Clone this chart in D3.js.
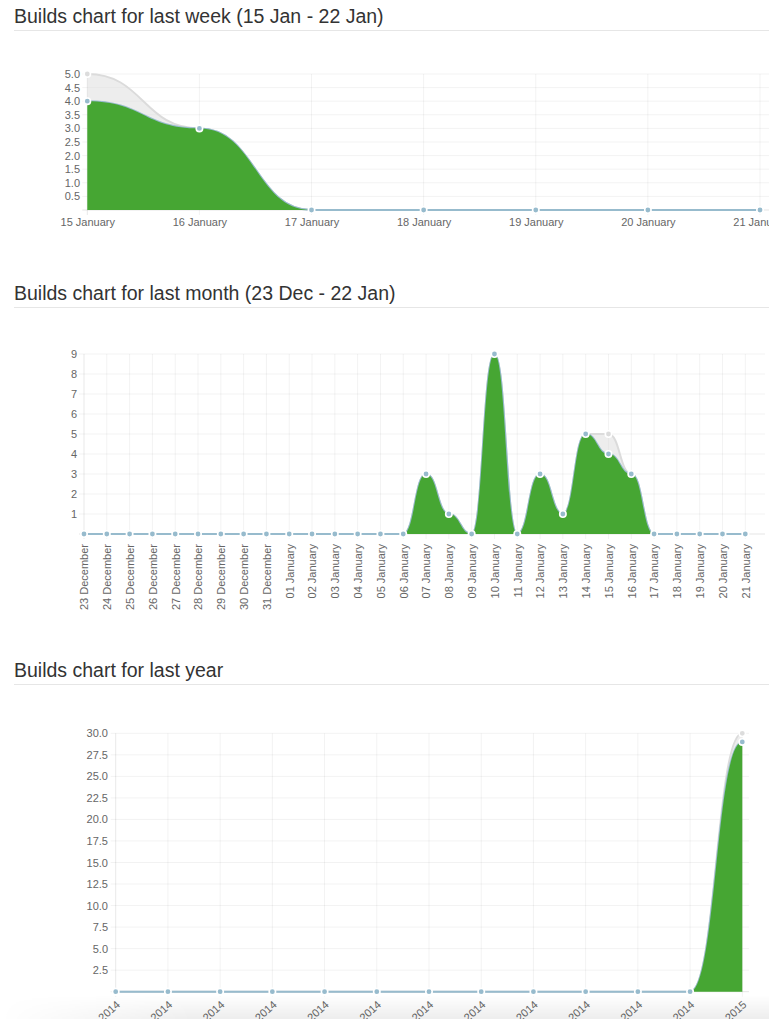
<!DOCTYPE html>
<html>
<head>
<meta charset="utf-8">
<script src="https://cdn.jsdelivr.net/npm/d3@7"></script>
<style>
  body { margin: 0; background: #fff; overflow: hidden; }
  svg { display: block; font-family: "Liberation Sans", Arial, sans-serif; }
  .title { font-size: 19.5px; fill: #333; }
  .tick text { font-size: 11px; fill: #666; }
</style>
</head>
<body>
<div id="charts"></div>
<script>
// Builds per day, last week
var weekLabels = ["15 January", "16 January", "17 January", "18 January", "19 January", "20 January", "21 January"];
var weekTotal = [5, 3, 0, 0, 0, 0, 0];
var weekSuccess = [4, 3, 0, 0, 0, 0, 0];
var weekTicks = [0.5, 1, 1.5, 2, 2.5, 3, 3.5, 4, 4.5, 5];

// Builds per day, last month
var monthLabels = ["23 December", "24 December", "25 December", "26 December", "27 December",
  "28 December", "29 December", "30 December", "31 December", "01 January", "02 January",
  "03 January", "04 January", "05 January", "06 January", "07 January", "08 January",
  "09 January", "10 January", "11 January", "12 January", "13 January", "14 January",
  "15 January", "16 January", "17 January", "18 January", "19 January", "20 January", "21 January"];
var monthTotal = [0, 0, 0, 0, 0, 0, 0, 0, 0, 0, 0, 0, 0, 0, 0, 3, 1, 0, 9, 0, 3, 1, 5, 5, 3, 0, 0, 0, 0, 0];
var monthSuccess = [0, 0, 0, 0, 0, 0, 0, 0, 0, 0, 0, 0, 0, 0, 0, 3, 1, 0, 9, 0, 3, 1, 5, 4, 3, 0, 0, 0, 0, 0];
var monthTicks = [1, 2, 3, 4, 5, 6, 7, 8, 9];

// Builds per month, last year
var yearLabels = ["2014", "2014", "2014", "2014", "2014", "2014", "2014", "2014", "2014", "2014", "2014", "2014", "2015"];
var yearTotal = [0, 0, 0, 0, 0, 0, 0, 0, 0, 0, 0, 0, 30];
var yearSuccess = [0, 0, 0, 0, 0, 0, 0, 0, 0, 0, 0, 0, 29];
var yearTicks = [2.5, 5, 7.5, 10, 12.5, 15, 17.5, 20, 22.5, 25, 27.5, 30];

var W = 769, H = 1019;

var svg = d3.select("#charts").append("svg")
            .attr("width", W)
            .attr("height", H);

// bottom shadow of the page
var defs = svg.append("defs");
var vg = defs.append("linearGradient").attr("id", "shade").attr("x1", 0).attr("y1", 0).attr("x2", 0).attr("y2", 1);
vg.append("stop").attr("offset", 0).attr("stop-color", "#000").attr("stop-opacity", 0);
vg.append("stop").attr("offset", 1).attr("stop-color", "#000").attr("stop-opacity", 0.07);
var hg = defs.append("linearGradient").attr("id", "fadeLeft").attr("x1", 0).attr("y1", 0).attr("x2", 1).attr("y2", 0);
hg.append("stop").attr("offset", 0).attr("stop-color", "#fff").attr("stop-opacity", 0);
hg.append("stop").attr("offset", 0.25).attr("stop-color", "#fff").attr("stop-opacity", 1);
defs.append("mask").attr("id", "shadeMask")
    .append("rect").attr("x", 0).attr("y", 995).attr("width", W).attr("height", H - 995)
    .attr("fill", "url(#fadeLeft)");

function drawChart(cfg) {
    var g = svg.append("g");

    g.append("text")
        .attr("class", "title")
        .attr("x", 14)
        .attr("y", cfg.titleY)
        .text(cfg.title);

    g.append("line")
        .attr("x1", 14).attr("x2", W)
        .attr("y1", cfg.titleY + 7.5).attr("y2", cfg.titleY + 7.5)
        .attr("stroke", "#e6e6e6");

    var x = d3.scalePoint()
              .domain(d3.range(cfg.labels.length))
              .range([cfg.x0, cfg.x1]);

    var y = d3.scaleLinear()
              .domain([0, d3.max(cfg.ticks)])
              .range([cfg.y0, cfg.yTop]);

    // horizontal grid
    g.append("g").selectAll("line")
        .data(cfg.ticks)
        .join("line")
            .attr("x1", cfg.x0 - 5).attr("x2", cfg.gridRight)
            .attr("y1", function(d) { return y(d); })
            .attr("y2", function(d) { return y(d); })
            .attr("stroke", "rgba(0,0,0,0.05)");

    // vertical grid
    g.append("g").selectAll("line")
        .data(x.domain())
        .join("line")
            .attr("x1", function(d) { return x(d); })
            .attr("x2", function(d) { return x(d); })
            .attr("y1", cfg.yTop)
            .attr("y2", cfg.y0 + 5)
            .attr("stroke", function(d) { return d === 0 ? "rgba(0,0,0,0.09)" : "rgba(0,0,0,0.05)"; });

    // x axis line
    g.append("line")
        .attr("x1", cfg.x0 - 5).attr("x2", cfg.gridRight)
        .attr("y1", cfg.y0).attr("y2", cfg.y0)
        .attr("stroke", "rgba(0,0,0,0.1)");

    // y labels
    var yAxis = g.append("g")
        .attr("transform", "translate(" + cfg.yLabelX + ",0)")
        .call(d3.axisLeft(y).tickValues(cfg.ticks).tickFormat(cfg.fmt).tickSize(0).tickPadding(0));
    yAxis.select(".domain").remove();
    yAxis.attr("font-family", null).attr("font-size", null);

    // x labels
    var xAxis = g.append("g")
        .attr("transform", "translate(0," + cfg.y0 + ")")
        .call(d3.axisBottom(x).tickFormat(function(i) { return cfg.labels[i]; }).tickSize(0).tickPadding(8));
    xAxis.select(".domain").remove();
    xAxis.attr("font-family", null).attr("font-size", null);
    if (cfg.rotate) {
        xAxis.selectAll("text")
            .attr("x", 0).attr("y", 0).attr("dy", "0.35em")
            .attr("transform", "translate(" + cfg.labelDx + "," + cfg.labelDy + ") rotate(" + cfg.rotate + ")")
            .style("text-anchor", "end");
    }

    // old Chart.js bezier: both control points at the horizontal midpoint
    var line = d3.line()
        .x(function(d, i) { return x(i); })
        .y(function(d) { return y(d); })
        .curve(d3.curveBumpX);
    var area = d3.area()
        .x(function(d, i) { return x(i); })
        .y0(cfg.y0)
        .y1(function(d) { return y(d); })
        .curve(d3.curveBumpX);

    // datasets: total builds (grey) below, successful builds (green) on top
    var datasets = [
        {values: cfg.total, fill: "rgba(220,220,220,0.5)", stroke: "#dcdcdc", point: "#dcdcdc"},
        {values: cfg.success, fill: "#46a633", stroke: "#97bbcd", point: "#97bbcd"}
    ];

    datasets.forEach(function(ds) {
        var s = g.append("g");
        s.append("path")
            .attr("d", line(ds.values))
            .attr("fill", "none")
            .attr("stroke", ds.stroke)
            .attr("stroke-width", 2);
        s.append("path")
            .attr("d", area(ds.values))
            .attr("fill", ds.fill);
        s.selectAll("circle")
            .data(ds.values)
            .join("circle")
                .attr("cx", function(d, i) { return x(i); })
                .attr("cy", function(d) { return y(d); })
                .attr("r", 3.2)
                .attr("fill", ds.point)
                .attr("stroke", "#fff")
                .attr("stroke-width", 1.6);
    });
}

drawChart({
    title: "Builds chart for last week (15 Jan - 22 Jan)",
    titleY: 23,
    labels: weekLabels, total: weekTotal, success: weekSuccess, ticks: weekTicks,
    fmt: d3.format(".1f"),
    x0: 87.3, x1: 760, y0: 210, yTop: 74, yLabelX: 80, gridRight: W
});

drawChart({
    title: "Builds chart for last month (23 Dec - 22 Jan)",
    titleY: 300,
    labels: monthLabels, total: monthTotal, success: monthSuccess, ticks: monthTicks,
    fmt: d3.format("d"),
    x0: 84, x1: 745.3, y0: 534, yTop: 354, yLabelX: 77, gridRight: 765,
    rotate: -90, labelDx: 0, labelDy: 10
});

drawChart({
    title: "Builds chart for last year",
    titleY: 677,
    labels: yearLabels, total: yearTotal, success: yearSuccess, ticks: yearTicks,
    fmt: d3.format(".1f"),
    x0: 115.7, x1: 742.3, y0: 991.7, yTop: 733.3, yLabelX: 108, gridRight: 749,
    rotate: -42, labelDx: 2, labelDy: 11
});

svg.append("rect")
    .attr("x", 0).attr("y", 995)
    .attr("width", W).attr("height", H - 995)
    .attr("fill", "url(#shade)")
    .attr("mask", "url(#shadeMask)");
</script>
</body>
</html>
